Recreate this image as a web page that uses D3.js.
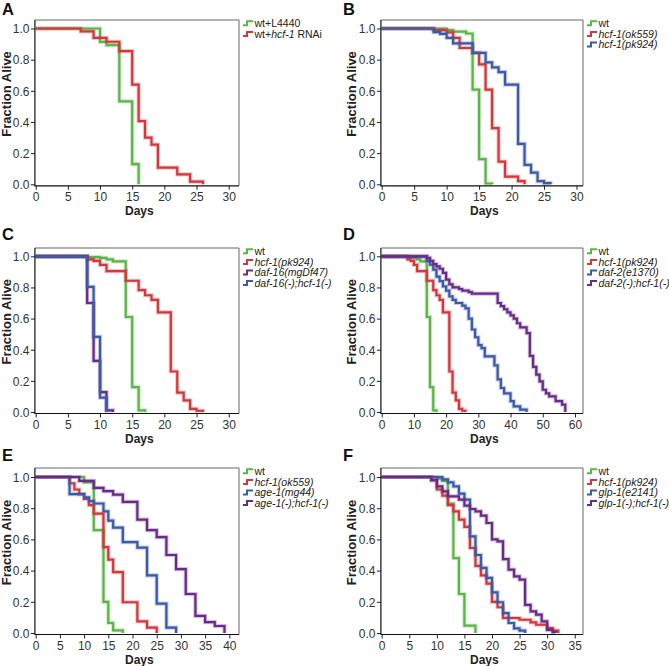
<!DOCTYPE html>
<html><head><meta charset="utf-8">
<script src="https://cdn.jsdelivr.net/npm/d3@7"></script>
<style>
body{margin:0;background:#fff}
text{font-family:Arial,"Liberation Sans",sans-serif}
</style>
</head><body>
<svg id="chart" width="669" height="666"></svg>
<script>
// ---------------- DATA ----------------
// Each series: [day, fraction alive after that day's deaths]
const panelLetters = ["A","B","C","D","E","F"];
const yTickValues = [0, 0.2, 0.4, 0.6, 0.8, 1.0];
const xTicksA = [0,5,10,15,20,25,30];
const xTicksB = [0,5,10,15,20,25,30];
const xTicksC = [0,5,10,15,20,25,30];
const xTicksD = [0,10,20,30,40,50,60];
const xTicksE = [0,5,10,15,20,25,30,35,40];
const xTicksF = [0,5,10,15,20,25,30,35];
const xMaxA = 31.6, xMaxB = 31.0, xMaxC = 31.6, xMaxD = 62.5, xMaxE = 42.0, xMaxF = 36.5;

const A_wtL4440 = [[0,1],[10,0.914],[11,0.893],[13,0.532],[15,0.129],[16,0]];
const A_wtHcf1RNAi = [[0,1],[7,0.982],[9,0.94],[11,0.915],[13,0.855],[15,0.64],[16,0.405],[17,0.30],[18,0.255],[19,0.107],[22,0.064],[24,0.017],[26,0]];

const B_wt = [[0,1],[10,0.99],[11,0.98],[13,0.968],[14,0.608],[15,0.161],[16,0.005],[17,0]];
const B_ok559 = [[0,1],[8,0.99],[10,0.975],[11,0.94],[12,0.875],[14,0.843],[15,0.77],[16,0.608],[17,0.36],[18,0.146],[19,0.049],[21,0.02],[22,0]];
const B_pk924 = [[0,1],[8,0.977],[9,0.965],[10,0.94],[11,0.905],[14,0.843],[16,0.783],[17,0.75],[18,0.72],[19,0.64],[21,0.26],[22,0.125],[23,0.075],[24,0.02],[25,0.008],[26,0]];

const C_wt = [[0,1],[8,0.995],[10,0.99],[11,0.98],[12,0.968],[14,0.61],[15,0.16],[16,0.01],[17,0]];
const C_pk924 = [[0,1],[8,0.98],[9,0.97],[10,0.945],[11,0.905],[14,0.843],[16,0.783],[17,0.75],[18,0.72],[19,0.64],[21,0.26],[22,0.125],[23,0.075],[24,0.02],[25,0.008],[26,0]];
const C_daf16 = [[0,1],[8,0.70],[9,0.328],[10,0.128],[11,0.01],[12,0]];
const C_daf16hcf1 = [[0,1],[8,0.803],[9,0.482],[10,0.092],[11,0]];

const D_wt = [[0,1],[8,0.995],[10,0.99],[11,0.98],[12,0.968],[14,0.61],[15,0.16],[16,0.01],[17,0]];
const D_pk924 = [[0,1],[8,0.98],[9,0.97],[10,0.945],[11,0.905],[14,0.843],[16,0.783],[17,0.75],[18,0.72],[19,0.64],[21,0.26],[22,0.125],[23,0.075],[24,0.02],[25,0.008],[26,0]];
const D_daf2 = [[0,1],[14,0.97],[15,0.946],[16,0.914],[17,0.87],[18,0.84],[19,0.807],[20,0.78],[21,0.743],[22,0.72],[23,0.70],[25,0.683],[26,0.665],[27,0.60],[28,0.53],[29,0.48],[30,0.43],[31,0.41],[32,0.357],[35,0.30],[36,0.21],[37,0.154],[38,0.12],[40,0.07],[41,0.036],[43,0.015],[45,0]];
const D_daf2hcf1 = [[0,1],[14,0.99],[15,0.97],[16,0.95],[17,0.935],[18,0.92],[19,0.893],[20,0.85],[21,0.82],[22,0.80],[24,0.79],[25,0.78],[27,0.77],[28,0.76],[36,0.70],[37,0.68],[38,0.66],[39,0.64],[40,0.62],[41,0.60],[42,0.57],[43,0.544],[45,0.507],[46,0.36],[47,0.29],[48,0.24],[49,0.197],[50,0.143],[51,0.12],[52,0.10],[54,0.07],[56,0.047],[57,0]];

const E_wt = [[0,1],[10,0.965],[12,0.66],[14,0.2],[15,0.064],[16,0.017],[18,0]];
const E_ok559 = [[0,1],[7,0.96],[8,0.92],[9,0.89],[10,0.86],[11,0.82],[12,0.765],[14,0.55],[15,0.47],[16,0.39],[18,0.197],[21,0.075],[23,0.034],[25,0]];
const E_age1 = [[0,1],[7,0.89],[10,0.87],[11,0.845],[12,0.83],[14,0.78],[15,0.72],[16,0.675],[18,0.583],[21,0.547],[23,0.37],[25,0.188],[27,0.034],[29,0]];
const E_age1hcf1 = [[0,1],[9,0.975],[12,0.93],[14,0.91],[16,0.887],[18,0.84],[21,0.727],[23,0.66],[25,0.615],[27,0.5],[29,0.41],[31,0.25],[33,0.11],[35,0.07],[37,0.045],[39,0]];

const F_wt = [[0,1],[10,0.99],[11,0.975],[12,0.83],[13,0.48],[14,0.25],[15,0.047],[17,0]];
const F_pk924 = [[0,1],[9,0.98],[10,0.92],[11,0.88],[12,0.82],[13,0.78],[14,0.727],[15,0.68],[16,0.545],[17,0.43],[18,0.37],[19,0.316],[20,0.2],[21,0.165],[22,0.096],[25,0.085],[27,0.068],[28,0.053],[30,0.032],[31,0.015],[32,0]];
const F_glp1 = [[0,1],[11,0.985],[12,0.965],[13,0.94],[14,0.893],[15,0.855],[16,0.62],[17,0.5],[18,0.417],[19,0.353],[20,0.26],[21,0.197],[22,0.128],[23,0.064],[24,0.03],[25,0.015],[26,0]];
const F_glp1hcf1 = [[0,1],[9,0.98],[10,0.94],[11,0.908],[12,0.876],[14,0.855],[15,0.816],[16,0.795],[17,0.78],[18,0.752],[19,0.705],[20,0.60],[21,0.587],[22,0.474],[23,0.406],[24,0.363],[25,0.342],[26,0.18],[27,0.139],[28,0.118],[29,0.075],[30,0.02],[31,0.005],[31.5,0]];

// legend labels: segments [text, italic]
const legendA = [[["wt+L4440",0]], [["wt+",0],["hcf-1",1],[" RNAi",0]]];
const legendB = [[["wt",0]], [["hcf-1(ok559)",1]], [["hcf-1(pk924)",1]]];
const legendC = [[["wt",0]], [["hcf-1(pk924)",1]], [["daf-16(mgDf47)",1]], [["daf-16(-);hcf-1(-)",1]]];
const legendD = [[["wt",0]], [["hcf-1(pk924)",1]], [["daf-2(e1370)",1]], [["daf-2(-);hcf-1(-)",1]]];
const legendE = [[["wt",0]], [["hcf-1(ok559)",1]], [["age-1(mg44)",1]], [["age-1(-);hcf-1(-)",1]]];
const legendF = [[["wt",0]], [["hcf-1(pk924)",1]], [["glp-1(e2141)",1]], [["glp-1(-);hcf-1(-)",1]]];

const xAxisTitle = "Days";
const yAxisTitle = "Fraction Alive";

// ---------------- STYLE / LAYOUT ----------------
const GREEN = "#5cb548", RED = "#d2383d", BLUE = "#3b5aa9", PURPLE = "#692b88";

const cols = [{left:35.7, right:239, letterX:2, ytitleX:10.5},
              {left:381.7, right:583, letterX:343, ytitleX:355.5}];
const rows = [{top:20, y1:28.5, y0:184.3, letterY:15},
              {top:248, y1:256.3, y0:412, letterY:239.5},
              {top:468, y1:477, y0:633, letterY:461}];

const panels = [
  {col:0,row:0,ticks:xTicksA,xMax:xMaxA,series:[A_wtL4440,A_wtHcf1RNAi],colors:[GREEN,RED],legend:legendA},
  {col:1,row:0,ticks:xTicksB,xMax:xMaxB,series:[B_wt,B_ok559,B_pk924],colors:[GREEN,RED,BLUE],legend:legendB},
  {col:0,row:1,ticks:xTicksC,xMax:xMaxC,series:[C_wt,C_pk924,C_daf16,C_daf16hcf1],colors:[GREEN,RED,PURPLE,BLUE],legend:legendC},
  {col:1,row:1,ticks:xTicksD,xMax:xMaxD,series:[D_wt,D_pk924,D_daf2,D_daf2hcf1],colors:[GREEN,RED,BLUE,PURPLE],legend:legendD},
  {col:0,row:2,ticks:xTicksE,xMax:xMaxE,series:[E_wt,E_ok559,E_age1,E_age1hcf1],colors:[GREEN,RED,BLUE,PURPLE],legend:legendE},
  {col:1,row:2,ticks:xTicksF,xMax:xMaxF,series:[F_wt,F_pk924,F_glp1,F_glp1hcf1],colors:[GREEN,RED,BLUE,PURPLE],legend:legendF}
];

const svg = d3.select("#chart");

panels.forEach((p, i) => {
  const c = cols[p.col], r = rows[p.row];
  const x = d3.scaleLinear().domain([0, p.xMax]).range([c.left, c.right]);
  const y = d3.scaleLinear().domain([0, 1]).range([r.y0, r.y1]);
  const g = svg.append("g");
  const boxBottom = r.y0 + 1.5, boxLeft = c.left - 0.8;

  // frame (top/right)
  g.append("path")
    .attr("d", `M${boxLeft},${r.top}H${c.right}V${boxBottom}`)
    .attr("fill","none").attr("stroke","#666").attr("stroke-width",1);

  // curves
  const line = d3.line().x(d => x(d[0])).y(d => y(d[1])).curve(d3.curveStepAfter);
  p.series.forEach((s, k) => {
    g.append("path").attr("d", line(s)).attr("fill","none")
      .attr("stroke", p.colors[k]).attr("stroke-opacity",0.3).attr("stroke-width",4.2);
    g.append("path").attr("d", line(s)).attr("fill","none")
      .attr("stroke", p.colors[k]).attr("stroke-width",2.2);
  });

  // axes
  const yAxis = d3.axisLeft(y).tickValues(yTickValues).tickFormat(d3.format(".1f")).tickSize(4).tickPadding(1.5);
  const ya = g.append("g").attr("transform", `translate(${boxLeft},0)`).call(yAxis);
  const xAxis = d3.axisBottom(x).tickValues(p.ticks).tickFormat(d3.format("d")).tickSize(4).tickPadding(2.8);
  const xa = g.append("g").attr("transform", `translate(0,${boxBottom})`).call(xAxis);
  [ya, xa].forEach(a => {
    a.select(".domain").remove();
    a.selectAll(".tick line").attr("stroke","#222");
    a.selectAll(".tick text").attr("fill","#333").style("font-size","12px")
      .style("font-family","Arial, 'Liberation Sans', sans-serif");
  });
  ya.selectAll(".tick text").attr("dy","0.36em");

  // left & bottom axis lines
  g.append("path")
    .attr("d", `M${boxLeft},${r.top}V${boxBottom}H${c.right}`)
    .attr("fill","none").attr("stroke","#111").attr("stroke-width",1.2);

  // titles
  g.append("text").attr("x", (c.left + c.right)/2 + 2).attr("y", r.y0 + 30.5)
    .attr("text-anchor","middle").style("font-size","12px").style("font-weight","bold")
    .attr("fill","#222").text(xAxisTitle);
  g.append("text")
    .attr("transform", `translate(${c.ytitleX},${(r.y0 + r.y1)/2 - 12.5}) rotate(-90)`)
    .attr("text-anchor","middle").style("font-size","13px").style("font-weight","bold")
    .attr("fill","#222").text(yAxisTitle);
  g.append("text").attr("x", c.letterX).attr("y", r.letterY)
    .style("font-size","16.5px").style("font-weight","bold").attr("fill","#111")
    .text(panelLetters[i]);

  // legend
  p.legend.forEach((segs, k) => {
    const cy = r.top + 3.3 + k * 10.6;
    const ix = c.right + 4;
    g.append("path")
      .attr("d", `M${ix},${cy + 2}H${ix + 4}V${cy - 2}H${ix + 10}`)
      .attr("fill","none").attr("stroke", p.colors[k]).attr("stroke-width",2);
    const t = g.append("text").attr("x", c.right + 15.5).attr("y", cy + 3.6)
      .style("font-size","10.5px").attr("fill","#222");
    segs.forEach(sg => {
      t.append("tspan").text(sg[0]).style("font-style", sg[1] ? "italic" : "normal");
    });
  });
});
</script>
</body></html>
